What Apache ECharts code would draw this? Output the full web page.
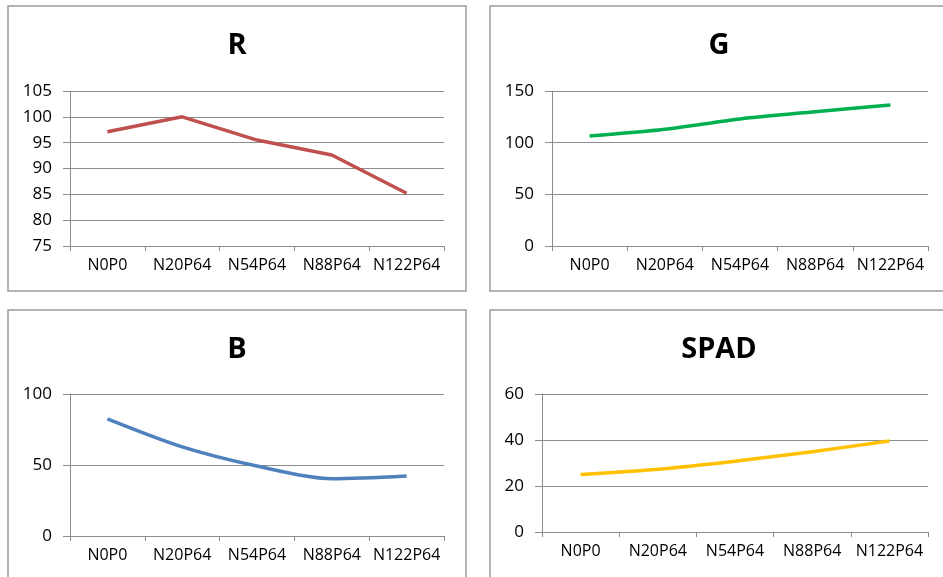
<!DOCTYPE html>
<html>
<head>
<meta charset="utf-8">
<script src="https://cdn.jsdelivr.net/npm/echarts@6/dist/echarts.min.js"></script>
<style>
  html, body { margin: 0; padding: 0; background: #fff; }
  #main { width: 943px; height: 577px; }
</style>
</head>
<body>
<div id="main"></div>
<script>
var categories = ['N0P0', 'N20P64', 'N54P64', 'N88P64', 'N122P64'];
var rValues = [97.1, 100, 95.5, 92.6, 85.2];
var gValues = [106.5, 113, 123, 130, 136.5];
var bValues = [82.5, 62.8, 49.3, 40.4, 42.3];
var spadValues = [25, 27.3, 30.8, 34.9, 39.6];

var FONT = '"Open Sans", sans-serif';
var GRAY = '#8c8c8c';

// one entry per panel: frame box, grid box, title, axis range, series
var panels = [
    { name: 'R', frame: [8, 6, 458, 285], grid: [70, 91, 374, 155], titleTop: 31,
      min: 75, max: 105, interval: 5, data: rValues, color: '#c0504d', smooth: false },
    { name: 'G', frame: [490, 6, 458, 285], grid: [552, 91, 376, 155], titleTop: 31,
      min: 0, max: 150, interval: 50, data: gValues, color: '#00b050', smooth: true },
    { name: 'B', frame: [8, 310, 458, 300], grid: [70, 394, 374, 142], titleTop: 335,
      min: 0, max: 100, interval: 50, data: bValues, color: '#4f81bd', smooth: true },
    { name: 'SPAD', frame: [490, 310, 458, 300], grid: [542, 394, 386, 138], titleTop: 335,
      min: 0, max: 60, interval: 20, data: spadValues, color: '#ffc000', smooth: true }
];

var option = {
    backgroundColor: '#fff',
    animation: false,
    title: [],
    grid: [],
    xAxis: [],
    yAxis: [],
    series: [],
    graphic: []
};

panels.forEach(function (p, i) {
    option.graphic.push({
        type: 'rect',
        shape: { x: p.frame[0], y: p.frame[1], width: p.frame[2], height: p.frame[3] },
        style: { fill: 'none', stroke: '#9a9a9a', lineWidth: 1.5 },
        z: 0
    });
    option.title.push({
        text: p.name,
        left: p.frame[0] + p.frame[2] / 2,
        top: p.titleTop,
        padding: 0,
        textAlign: 'center',
        textStyle: { fontFamily: FONT, fontWeight: 'bold', fontSize: 29, color: '#000' }
    });
    option.grid.push({
        left: p.grid[0], top: p.grid[1], width: p.grid[2], height: p.grid[3],
        containLabel: false
    });
    option.xAxis.push({
        type: 'category',
        gridIndex: i,
        data: categories,
        boundaryGap: true,
        axisLine: { lineStyle: { color: GRAY, width: 1 } },
        axisTick: { show: true, length: 5, lineStyle: { color: GRAY } },
        axisLabel: { margin: 11, fontFamily: FONT, fontSize: 16, color: '#000', interval: 0 },
        splitLine: { show: false }
    });
    option.yAxis.push({
        type: 'value',
        gridIndex: i,
        min: p.min,
        max: p.max,
        interval: p.interval,
        axisLine: { show: true, lineStyle: { color: GRAY, width: 1 } },
        axisTick: { show: true, length: 7, lineStyle: { color: GRAY } },
        axisLabel: { margin: 18, fontFamily: FONT, fontSize: 17, color: '#000' },
        splitLine: { show: true, lineStyle: { color: GRAY, width: 1 } }
    });
    option.series.push({
        type: 'line',
        xAxisIndex: i,
        yAxisIndex: i,
        data: p.data,
        smooth: p.smooth ? 0.3 : false,
        showSymbol: false,
        lineStyle: { color: p.color, width: 3.5 },
        itemStyle: { color: p.color }
    });
});

var chart = echarts.init(document.getElementById('main'), null, { renderer: 'canvas' });
chart.setOption(option);
</script>
</body>
</html>
